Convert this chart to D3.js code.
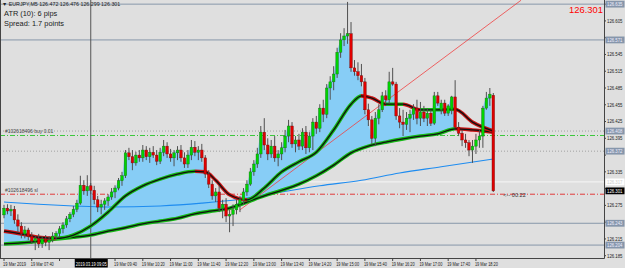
<!DOCTYPE html>
<html><head><meta charset="utf-8">
<script src="https://cdn.jsdelivr.net/npm/d3@7"></script>
<style>body{margin:0;background:#dfdfdf}svg{display:block}</style>
</head><body><svg id="c" width="625" height="268"></svg>
<script>
// ---- DATA (EURJPY M5, 19 Mar 2019 07:00 onward) ----
const opens=[126.258,126.270,126.265,126.268,126.249,126.238,126.224,126.231,126.220,126.211,126.216,126.206,126.215,126.209,126.213,126.220,126.225,126.233,126.240,126.251,126.259,126.268,126.279,126.311,126.301,126.310,126.302,126.285,126.272,126.277,126.283,126.290,126.299,126.306,126.319,126.328,126.369,126.362,126.351,126.365,126.360,126.374,126.362,126.370,126.365,126.354,126.370,126.381,126.367,126.360,126.369,126.374,126.360,126.349,126.365,126.379,126.370,126.374,126.360,126.331,126.313,126.292,126.299,126.270,126.277,126.256,126.259,126.267,126.277,126.285,126.299,126.313,126.335,126.349,126.367,126.406,126.383,126.367,126.381,126.360,126.367,126.378,126.399,126.417,126.385,126.392,126.381,126.406,126.378,126.399,126.424,126.413,126.449,126.438,126.485,126.496,126.510,126.549,126.571,126.578,126.582,126.521,126.514,126.507,126.496,126.446,126.428,126.395,126.431,126.446,126.471,126.464,126.496,126.492,126.435,126.424,126.420,126.431,126.438,126.449,126.431,126.442,126.431,126.440,126.422,126.471,126.446,126.458,126.440,126.446,126.469,126.415,126.404,126.392,126.387,126.374,126.381,126.392,126.399,126.449,126.467,126.472];
const highs=[126.276,126.277,126.276,126.274,126.259,126.245,126.238,126.235,126.227,126.220,126.224,126.220,126.222,126.220,126.227,126.229,126.238,126.245,126.256,126.263,126.274,126.285,126.328,126.320,126.329,126.315,126.310,126.292,126.285,126.288,126.295,126.306,126.311,126.324,126.335,126.374,126.378,126.374,126.371,126.374,126.383,126.381,126.378,126.381,126.374,126.378,126.392,126.388,126.376,126.374,126.381,126.383,126.370,126.374,126.392,126.390,126.381,126.385,126.365,126.338,126.320,126.306,126.310,126.285,126.288,126.267,126.277,126.285,126.292,126.306,126.320,126.342,126.356,126.378,126.417,126.431,126.395,126.392,126.399,126.374,126.388,126.410,126.428,126.424,126.399,126.403,126.413,126.417,126.406,126.431,126.435,126.456,126.464,126.492,126.506,126.524,126.557,126.583,126.592,126.639,126.603,126.535,126.531,126.528,126.503,126.457,126.435,126.442,126.456,126.478,126.481,126.514,126.521,126.496,126.449,126.446,126.442,126.446,126.456,126.464,126.460,126.453,126.449,126.446,126.478,126.478,126.464,126.464,126.456,126.471,126.499,126.424,126.410,126.403,126.392,126.392,126.403,126.410,126.453,126.478,126.485,126.476];
const lows=[126.252,126.259,126.256,126.242,126.227,126.216,126.216,126.213,126.206,126.195,126.199,126.199,126.202,126.195,126.209,126.213,126.218,126.225,126.235,126.245,126.254,126.263,126.276,126.294,126.292,126.295,126.277,126.263,126.259,126.267,126.274,126.285,126.288,126.302,126.310,126.324,126.356,126.338,126.346,126.353,126.353,126.356,126.351,126.360,126.347,126.349,126.363,126.360,126.353,126.345,126.356,126.353,126.342,126.342,126.356,126.363,126.356,126.353,126.324,126.306,126.285,126.281,126.263,126.252,126.245,126.227,126.238,126.259,126.263,126.277,126.292,126.310,126.328,126.342,126.360,126.374,126.356,126.360,126.353,126.345,126.356,126.370,126.388,126.378,126.370,126.374,126.374,126.367,126.370,126.374,126.403,126.406,126.424,126.431,126.464,126.481,126.503,126.539,126.560,126.564,126.514,126.507,126.499,126.488,126.438,126.417,126.385,126.381,126.420,126.442,126.457,126.457,126.489,126.428,126.413,126.399,126.410,126.406,126.428,126.420,126.417,126.424,126.417,126.417,126.419,126.453,126.438,126.435,126.435,126.438,126.413,126.399,126.381,126.378,126.363,126.351,126.367,126.378,126.378,126.446,126.453,126.299];
const closes=[126.270,126.265,126.268,126.249,126.238,126.224,126.231,126.220,126.211,126.216,126.206,126.215,126.209,126.213,126.220,126.225,126.233,126.240,126.251,126.259,126.268,126.279,126.311,126.301,126.309,126.302,126.285,126.272,126.277,126.283,126.290,126.299,126.306,126.319,126.328,126.369,126.362,126.351,126.365,126.360,126.374,126.362,126.370,126.365,126.354,126.370,126.381,126.367,126.360,126.369,126.374,126.360,126.349,126.365,126.379,126.370,126.374,126.360,126.331,126.313,126.292,126.299,126.270,126.277,126.256,126.259,126.267,126.277,126.285,126.299,126.313,126.335,126.349,126.367,126.406,126.383,126.367,126.381,126.360,126.367,126.378,126.399,126.417,126.385,126.392,126.381,126.406,126.378,126.399,126.424,126.413,126.449,126.438,126.485,126.496,126.510,126.549,126.571,126.578,126.582,126.521,126.514,126.507,126.496,126.446,126.428,126.395,126.431,126.446,126.471,126.464,126.496,126.492,126.435,126.424,126.420,126.431,126.438,126.449,126.431,126.442,126.431,126.440,126.422,126.471,126.458,126.458,126.440,126.453,126.469,126.415,126.404,126.392,126.387,126.374,126.381,126.392,126.399,126.449,126.467,126.474,126.301];

const fastIdx=[0,5,10,15,20,25,30,35,40,45,50,55,58,61,65,70,75,80,85,90,95,100,103,106,110,115,120,125,130,135,141];
const fastVals=[126.229,126.224,126.218,126.216,126.222,126.238,126.263,126.292,126.310,126.322,126.331,126.336,126.335,126.320,126.294,126.285,126.306,126.335,126.353,126.370,126.410,126.456,126.471,126.467,126.456,126.456,126.446,126.446,126.447,126.424,126.408];
const slowIdx=[0,5,10,15,20,25,30,35,40,45,50,55,60,65,70,75,80,85,90,95,100,105,110,115,120,125,130,135,141];
const slowVals=[126.206,126.208,126.211,126.215,126.218,126.222,126.229,126.235,126.242,126.247,126.252,126.260,126.265,126.270,126.281,126.292,126.302,126.313,126.328,126.347,126.369,126.381,126.388,126.394,126.399,126.403,126.412,126.410,126.406];
const longIdx=[0,10,20,30,45,57,68,80,91,103,114,126,141];
const longVals=[126.281,126.277,126.274,126.272,126.274,126.279,126.286,126.299,126.310,126.320,126.333,126.344,126.358];

const priceTicks=[126.185,126.215,126.245,126.275,126.305,126.335,126.365,126.395,126.425,126.455,126.485,126.515,126.545,126.575,126.605,126.635];
const timeIdx=[0,8,16,24,32,40,48,56,64,72,80,88,96,104,112,120,128,136];
const timeLabels=["19 Mar 2019","19 Mar 07:40","19 Mar 08:20","19 Mar 09:00","19 Mar 09:40","19 Mar 10:20","19 Mar 11:00","19 Mar 11:40","19 Mar 12:20","19 Mar 13:00","19 Mar 13:40","19 Mar 14:20","19 Mar 15:00","19 Mar 15:40","19 Mar 16:20","19 Mar 17:00","19 Mar 17:40","19 Mar 18:20"];
const solidLevels=[126.635,126.571,126.243,126.204];
const dottedLevels=[126.408,126.372];
const whiteLevel=126.317;
const buyLevel=126.400, slLevel=126.295, bidPrice=126.301;
const trendIdx=[68,149], trendVals=[126.267,126.642];
const vLineIdx=25, vLineLabel="2019.03.19 09:05";
const titleText="▼ EURJPY,M5  126.472 126.476 126.299 126.301";
const infoLines=["ATR (10): 6 pips","Spread: 1.7 points"];
const orderBuyText="#102618496 buy 0.01", orderSlText="#102618496 sl";
const countdown="<-- 00:22";

// ---- DRAW ----
const svg=d3.select("#c");
const PR=604, PB=258;
const x=d3.scaleLinear().domain([0,141]).range([4,493.3]);
const y=d3.scaleLinear().domain([126.185,126.485]).range([255.7,88]);
const f3=d3.format(".3f");
const FONT="Liberation Sans, Arial, sans-serif";

svg.append("rect").attr("width",625).attr("height",268).attr("fill","#dfdfdf");
const defs=svg.append("defs");
defs.append("clipPath").attr("id","plot").append("rect").attr("x",0).attr("y",0).attr("width",PR).attr("height",PB);
const g=svg.append("g").attr("clip-path","url(#plot)");

// horizontal levels
g.selectAll(".sl").data(solidLevels).join("line").attr("x1",0).attr("x2",PR).attr("y1",d=>y(d)).attr("y2",d=>y(d)).attr("stroke","#8797aa").attr("stroke-width",1);
g.selectAll(".dl").data(dottedLevels).join("line").attr("x1",0).attr("x2",PR).attr("y1",d=>y(d)).attr("y2",d=>y(d)).attr("stroke","#a2a2a2").attr("stroke-dasharray","1,2");
g.append("line").attr("x1",0).attr("x2",PR).attr("y1",y(whiteLevel)).attr("y2",y(whiteLevel)).attr("stroke","#f6f6f6");
g.append("line").attr("x1",0).attr("x2",PR).attr("y1",y(buyLevel)).attr("y2",y(buyLevel)).attr("stroke","#3cc83c").attr("stroke-dasharray","5,2,1,2");
g.append("line").attr("x1",0).attr("x2",PR).attr("y1",y(slLevel)).attr("y2",y(slLevel)).attr("stroke","#e03a3a").attr("stroke-dasharray","5,2,1,2");

// cloud fill between close and slow MA
const idxAll=d3.range(closes.length);
const slowPts=slowIdx.map((d,k)=>[x(d),y(slowVals[k])]);
defs.append("clipPath").attr("id","above").append("path").attr("d",d3.area().x(d=>d[0]).y0(0).y1(d=>d[1]).curve(d3.curveMonotoneX)(slowPts));
defs.append("clipPath").attr("id","below").append("path").attr("d",d3.area().x(d=>d[0]).y0(PB).y1(d=>d[1]).curve(d3.curveMonotoneX)(slowPts));
const cg=g.append("g");
cg.append("path").attr("clip-path","url(#above)").attr("fill","#87cdf6")
  .attr("d",d3.area().x(i=>x(i)).y0(PB).y1(i=>y(closes[i])).curve(d3.curveMonotoneX)(idxAll));
cg.append("path").attr("clip-path","url(#below)").attr("fill","#f3d6d6")
  .attr("d",d3.area().x(i=>x(i)).y0(0).y1(i=>y(closes[i])).curve(d3.curveMonotoneX)(idxAll));

// long MA
g.append("path").attr("fill","none").attr("stroke","#1e8cf0").attr("stroke-width",1.1)
  .attr("d",d3.line().x((d,k)=>x(d)).y((d,k)=>y(longVals[k])).curve(d3.curveMonotoneX)(longIdx));

// trend line
g.append("line").attr("x1",x(trendIdx[0])).attr("y1",y(trendVals[0])).attr("x2",x(trendIdx[1])).attr("y2",y(trendVals[1])).attr("stroke","#f04040").attr("stroke-width",0.8);

// vertical line
g.append("line").attr("x1",x(vLineIdx)).attr("x2",x(vLineIdx)).attr("y1",0).attr("y2",PB).attr("stroke","#555").attr("stroke-width",1);

// thick MAs with direction colouring
function thickMA(idx,vals,id){
  const grad=defs.append("linearGradient").attr("id",id).attr("gradientUnits","userSpaceOnUse").attr("x1",0).attr("x2",PR).attr("y1",0).attr("y2",0);
  for(let k=0;k<idx.length-1;k++){
    const col=vals[k+1]>=vals[k]?"#14b814":"#c81414";
    grad.append("stop").attr("offset",x(idx[k])/PR).attr("stop-color",col);
    grad.append("stop").attr("offset",x(idx[k+1])/PR).attr("stop-color",col);
  }
  const ln=d3.line().x(d=>x(d)).y((d,k)=>y(vals[k])).curve(d3.curveMonotoneX);
  g.append("path").attr("fill","none").attr("stroke",`url(#${id})`).attr("stroke-width",3.6).attr("d",ln(idx));
  g.append("path").attr("fill","none").attr("stroke","#111").attr("stroke-width",1.3).attr("d",ln(idx));
}
thickMA(slowIdx,slowVals,"gs");
thickMA(fastIdx,fastVals,"gf");

// candles
const cd=g.append("g");
cd.selectAll("line").data(idxAll).join("line").attr("x1",i=>x(i)).attr("x2",i=>x(i)).attr("y1",i=>y(highs[i])).attr("y2",i=>y(lows[i])).attr("stroke","#505050").attr("stroke-width",1);
cd.selectAll("rect").data(idxAll).join("rect").attr("x",i=>x(i)-1.3).attr("width",2.6)
  .attr("y",i=>y(Math.max(opens[i],closes[i]))).attr("height",i=>Math.max(0.8,Math.abs(y(opens[i])-y(closes[i]))))
  .attr("fill",i=>closes[i]>=opens[i]?"#00d400":"#e00000").attr("stroke",i=>closes[i]>=opens[i]?"#1a6a1a":"#6a1010").attr("stroke-width",0.4);

// texts in plot
svg.append("text").attr("x",2).attr("y",6).attr("font-family",FONT).attr("font-size",5.3).attr("fill","#222").text(titleText);
infoLines.forEach((t,k)=>svg.append("text").attr("x",4).attr("y",16+k*10).attr("font-family",FONT).attr("font-size",7.4).attr("fill","#1a1a1a").text(t));
svg.append("text").attr("x",603).attr("y",12.5).attr("text-anchor","end").attr("font-family",FONT).attr("font-size",9.4).attr("fill","#ff0000").text(f3(bidPrice));
svg.append("text").attr("x",5).attr("y",y(buyLevel)-2.5).attr("font-family",FONT).attr("font-size",5).attr("fill","#444").text(orderBuyText);
svg.append("text").attr("x",5).attr("y",y(slLevel)-2.5).attr("font-family",FONT).attr("font-size",5).attr("fill","#444").text(orderSlText);
svg.append("text").attr("x",x(141)+10).attr("y",y(bidPrice)+6).attr("font-family",FONT).attr("font-size",5.6).attr("fill","#333").text(countdown);

// frame
svg.append("line").attr("x1",PR+0.5).attr("x2",PR+0.5).attr("y1",0).attr("y2",PB+0.5).attr("stroke","#444");
svg.append("line").attr("x1",0).attr("x2",PR+0.5).attr("y1",PB+0.5).attr("y2",PB+0.5).attr("stroke","#444");
svg.append("line").attr("x1",0.5).attr("x2",0.5).attr("y1",0).attr("y2",PB).attr("stroke","#444");

// price axis
const pa=svg.append("g");
const boxed=solidLevels.concat(dottedLevels,[whiteLevel,bidPrice]);
function ptxt(p,col){
  return pa.append("text").attr("x",PR+3).attr("y",y(p)+1.8).attr("font-family",FONT).attr("font-size",5)
    .attr("textLength",15.5).attr("lengthAdjust","spacingAndGlyphs").attr("fill",col).text(f3(p));
}
priceTicks.forEach(p=>{
  pa.append("line").attr("x1",PR).attr("x2",PR+2).attr("y1",y(p)).attr("y2",y(p)).attr("stroke","#444");
  const hidden=boxed.some(b=>Math.abs(y(b)-y(p))<6);
  if(!hidden) ptxt(p,"#222");
});
function box(p,fill,tc){
  pa.append("rect").attr("x",PR+1.5).attr("y",y(p)-3.4).attr("width",19).attr("height",6.8).attr("fill",fill);
  ptxt(p,tc);
}
solidLevels.concat(dottedLevels).forEach(p=>box(p,"#8696ab","#eef"));
box(whiteLevel,"#ffffff","#ccc");
box(bidPrice,"#000000","#fff");

// time axis
const ta=svg.append("g");
const vx=x(vLineIdx);
timeIdx.forEach((i,k)=>{
  ta.append("line").attr("x1",x(i)).attr("x2",x(i)).attr("y1",PB).attr("y2",PB+3).attr("stroke","#444");
  const lx=x(i)-1;
  if(lx+23>vx-16 && lx<vx+17) return; // covered by the cursor time box
  ta.append("text").attr("x",lx).attr("y",266).attr("font-family",FONT).attr("font-size",5.2)
    .attr("textLength",23).attr("lengthAdjust","spacingAndGlyphs").attr("fill","#222").text(timeLabels[k]);
});
ta.append("rect").attr("x",vx-16).attr("y",259).attr("width",33).attr("height",8.5).attr("fill","#000");
ta.append("text").attr("x",vx-15).attr("y",265.5).attr("font-family",FONT).attr("font-size",5.2)
  .attr("textLength",31).attr("lengthAdjust","spacingAndGlyphs").attr("fill","#fff").text(vLineLabel);
</script></body></html>
